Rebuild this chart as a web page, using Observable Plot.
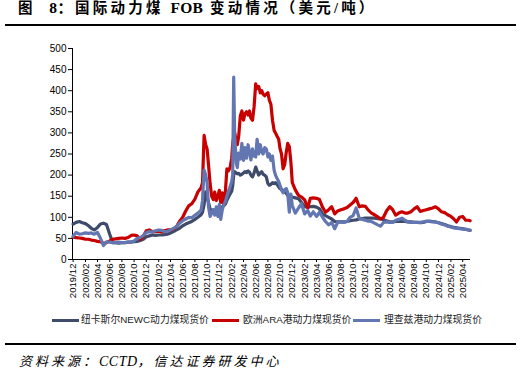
<!DOCTYPE html>
<html><head><meta charset="utf-8">
<script src="https://cdn.jsdelivr.net/npm/d3@7"></script>
<script src="https://cdn.jsdelivr.net/npm/@observablehq/plot@0.6"></script>
<style>
html,body{margin:0;padding:0;background:#fff;}
#wrap{position:relative;width:522px;height:386px;overflow:hidden;background:#fff;}
#title{position:absolute;left:18px;top:0px;font-family:"Liberation Serif","Noto Sans CJK SC",serif;font-weight:700;font-size:14.5px;letter-spacing:3.2px;line-height:16px;color:#000;white-space:nowrap;}
.lat{letter-spacing:0.3px;font-size:15.5px;}
.rule{position:absolute;left:5px;width:511px;height:2px;background:#000;}
#chart{position:absolute;left:0;top:30px;}
.leg{position:absolute;top:313px;font-family:"Liberation Sans","Noto Sans CJK SC",sans-serif;font-size:9.8px;line-height:14px;color:#222;white-space:nowrap;}
.sw{position:absolute;height:3px;top:319px;}
#source{position:absolute;left:19px;top:354px;font-family:"Liberation Serif","Noto Sans CJK SC",serif;font-style:italic;font-size:13px;letter-spacing:3px;line-height:16px;color:#000;white-space:nowrap;}
.lat2{letter-spacing:0.5px;font-size:14px;}
</style></head>
<body><div id="wrap">
<div id="title">图&nbsp;&nbsp;<span class="lat">8</span>：国际动力煤 <span class="lat">FOB</span> 变动情况（美元/吨）</div>
<div class="rule" style="top:24px"></div>
<div id="chart"></div>
<div id="legend"></div>
<div class="rule" style="top:343px"></div>
<div id="source">资料来源：<span class="lat2">CCTD</span>，信达证券研发中心</div>
</div>
<script>
const seriesNames = ["纽卡斯尔NEWC动力煤现货价", "欧洲ARA港动力煤现货价", "理查兹港动力煤现货价"];
const seriesColors = ["#3f4b6b", "#c80000", "#6276b2"];
const yTicks = [0, 50, 100, 150, 200, 250, 300, 350, 400, 450, 500];
const xTickLabels = ["2019/12","2020/02","2020/04","2020/06","2020/08","2020/10","2020/12","2021/02","2021/04","2021/06","2021/08","2021/10","2021/12","2022/02","2022/04","2022/06","2022/08","2022/10","2022/12","2023/02","2023/04","2023/06","2023/08","2023/10","2023/12","2024/02","2024/04","2024/06","2024/08","2024/10","2024/12","2025/02","2025/04"];
const dates = ["2019-12-01","2019-12-16","2020-01-01","2020-01-16","2020-02-01","2020-02-16","2020-03-01","2020-03-16","2020-04-01","2020-04-16","2020-05-01","2020-05-16","2020-06-01","2020-06-16","2020-07-01","2020-07-16","2020-08-01","2020-08-16","2020-09-01","2020-09-16","2020-10-01","2020-10-16","2020-11-01","2020-11-16","2020-12-01","2020-12-16","2021-01-01","2021-01-16","2021-02-01","2021-02-16","2021-03-01","2021-03-16","2021-04-01","2021-04-16","2021-05-01","2021-05-16","2021-06-01","2021-06-16","2021-07-01","2021-07-16","2021-08-01","2021-08-16","2021-09-01","2021-09-08","2021-09-16","2021-09-24","2021-10-01","2021-10-08","2021-10-16","2021-10-24","2021-11-01","2021-11-08","2021-11-16","2021-11-24","2021-12-01","2021-12-08","2021-12-16","2021-12-24","2022-01-01","2022-01-08","2022-01-16","2022-01-24","2022-02-01","2022-02-06","2022-02-11","2022-02-16","2022-02-24","2022-03-01","2022-03-08","2022-03-16","2022-03-24","2022-04-01","2022-04-08","2022-04-16","2022-04-24","2022-05-01","2022-05-08","2022-05-16","2022-05-24","2022-06-01","2022-06-08","2022-06-16","2022-06-24","2022-07-01","2022-07-08","2022-07-16","2022-07-24","2022-08-01","2022-08-08","2022-08-16","2022-08-24","2022-09-01","2022-09-08","2022-09-16","2022-09-24","2022-10-01","2022-10-08","2022-10-16","2022-10-24","2022-11-01","2022-11-08","2022-11-16","2022-11-24","2022-12-01","2022-12-16","2023-01-01","2023-01-16","2023-02-01","2023-02-16","2023-03-01","2023-03-16","2023-04-01","2023-04-16","2023-05-01","2023-05-16","2023-06-01","2023-06-16","2023-07-01","2023-07-16","2023-08-01","2023-08-16","2023-09-01","2023-09-16","2023-10-01","2023-10-16","2023-11-01","2023-11-16","2023-12-01","2023-12-16","2024-01-01","2024-01-16","2024-02-01","2024-02-16","2024-03-01","2024-03-16","2024-04-01","2024-04-16","2024-05-01","2024-05-16","2024-06-01","2024-06-16","2024-07-01","2024-07-16","2024-08-01","2024-08-16","2024-09-01","2024-09-16","2024-10-01","2024-10-16","2024-11-01","2024-11-16","2024-12-01","2024-12-16","2025-01-01","2025-01-16","2025-02-01","2025-02-16","2025-03-01","2025-03-16","2025-04-01","2025-04-16","2025-05-01","2025-05-08"];
const newc = [84,88,90,87,85,80,74,70,76,84,86,83,60,40,40,39,40,40,41,41,42,43,45,48,54,56,58,57,58,58,59,60,63,66,70,74,80,84,87,90,95,100,106,112,130,160,150,135,120,115,118,113,115,112,118,120,125,128,132,140,148,155,162,175,200,208,205,203,204,200,202,205,208,206,210,207,200,196,205,219,210,200,205,208,202,200,196,180,176,178,182,180,182,178,172,168,166,164,160,157,152,150,150,148,146,144,135,125,124,125,126,124,120,108,104,100,96,90,89,89,89,90,92,93,94,96,97,98,98,98,98,97,96,94,92,89,89,90,90,90,90,89,89,88,88,87,88,90,91,90,89,87,85,83,80,78,76,75,74,73,71,70,69,69];
const ara = [53,52,51,50,48,48,46,45,43,42,38,40,44,48,49,50,51,50,52,57,58,56,48,55,68,70,66,66,67,65,68,70,70,72,78,90,100,115,127,132,143,160,170,182,294,272,262,225,180,150,142,160,140,150,164,135,158,128,165,215,210,218,240,275,290,300,282,272,292,340,352,330,345,350,342,352,335,330,362,416,405,410,395,400,392,388,392,395,378,368,330,306,300,292,285,262,250,215,225,255,275,268,230,182,165,152,148,141,122,145,146,145,142,124,112,118,125,108,115,118,120,123,129,135,145,125,127,126,117,110,106,101,96,100,115,125,118,105,110,113,110,110,113,120,125,114,116,118,120,122,125,120,113,111,106,102,96,89,100,102,93,93,92,92];
const rb = [55,64,60,61,63,62,63,60,64,50,33,42,41,40,40,41,40,40,41,42,44,50,52,57,64,66,65,68,70,69,66,67,70,74,78,86,92,96,100,99,105,110,117,140,212,200,182,125,102,110,118,105,125,102,130,95,118,130,138,150,162,172,185,200,432,290,228,218,252,238,275,235,265,240,272,255,236,262,245,243,285,250,272,255,250,265,262,243,250,235,245,212,200,192,185,175,165,158,165,168,158,112,155,128,110,122,132,108,116,103,113,102,112,100,90,82,88,73,88,89,88,90,100,104,122,98,95,93,91,90,86,82,79,88,89,88,88,93,95,98,93,89,88,88,88,88,89,91,90,89,89,87,84,82,79,77,75,74,73,72,72,70,69,68];

const parse = d3.utcParse("%Y-%m-%d");
const parseTick = d3.utcParse("%Y/%m");
const seriesValues = [newc, ara, rb];
const rows = [];
seriesValues.forEach((vals, s) => {
  dates.forEach((d, i) => rows.push({date: parse(d), value: vals[i], series: seriesNames[s]}));
});
const xTicks = xTickLabels.map(parseTick);
const x0 = parse("2019-11-28"), x1 = parse("2025-05-10");

const chart = Plot.plot({
  width: 522, height: 280,
  marginLeft: 72, marginRight: 52, marginTop: 18, marginBottom: 51,
  style: {fontFamily: "'Liberation Sans', Arial, sans-serif", color: "#000", background: "transparent", overflow: "visible"},
  x: {type: "utc", domain: [x0, x1]},
  y: {domain: [0, 500]},
  marks: [
    Plot.axisY({ticks: yTicks, tickSize: 4, tickPadding: 2, label: null, fontSize: 10, stroke: "#000"}),
    Plot.axisX({ticks: xTicks, tickFormat: d3.utcFormat("%Y/%m"), tickRotate: -90, tickSize: 3, tickPadding: 1, label: null, fontSize: 9.6, stroke: "#000"}),
    Plot.ruleX([x0], {stroke: "#000", strokeWidth: 1}),
    Plot.ruleY([0], {stroke: "#000", strokeWidth: 1}),
    ...seriesNames.map((name, s) => Plot.lineY(rows.filter(r => r.series === name), {x: "date", y: "value", stroke: seriesColors[s], strokeWidth: 3.2, strokeLinejoin: "round"}))
  ]
});
document.getElementById("chart").appendChild(chart);

const legendPos = [[52, 81], [212, 243], [353, 384]];
const leg = document.getElementById("legend");
seriesNames.forEach((name, s) => {
  const sw = document.createElement("div");
  sw.className = "sw";
  sw.style.left = legendPos[s][0] + "px";
  sw.style.width = "27px";
  sw.style.background = seriesColors[s];
  leg.appendChild(sw);
  const t = document.createElement("div");
  t.className = "leg";
  t.style.left = legendPos[s][1] + "px";
  t.textContent = name;
  leg.appendChild(t);
});
</script>
</body></html>
